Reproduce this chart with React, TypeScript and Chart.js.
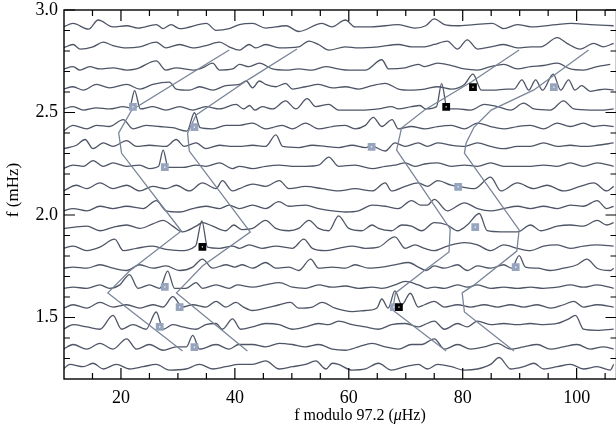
import React, { useEffect, useRef } from 'react';
import { Chart, registerables } from 'chart.js';

Chart.register(...registerables);

// Echelle diagram: f vs f modulo 97.2 µHz
const ROW_FREQ = [2.912, 2.815, 2.718, 2.620, 2.523, 2.426, 2.329, 2.232, 2.134, 2.037, 1.940, 1.843, 1.746, 1.648, 1.551, 1.454, 1.357, 1.260];
const POWER_SCALE = 0.0056; // mHz per power unit

type P = [number, number];
const trace00: P[] = [[9.9,1],[11.6,4],[14.3,-1],[16,7],[18.6,1],[21,2],[23,0],[26.2,3],[27.4,-0.5],[28.8,3],[30.3,-0.5],[35,4],[36.7,-2],[39,-0.5],[40.8,3],[43.1,4],[45.4,0],[49,2],[51.2,-3],[55.3,4],[57,1],[59.4,7],[61.1,1],[64,1],[68.7,3],[71.6,0],[73.5,2],[75,8],[76.8,3],[79,2],[82,3],[85.2,4],[87.2,-0.5],[89.6,3],[92,1],[96.5,3],[99,4],[102.4,3],[106.5,2]];
const trace01: P[] = [[9.9,0],[11.6,3],[12.8,-1],[15.1,1],[16.9,5],[18.6,2],[21,0],[23.3,1],[26.2,5],[27.9,0],[30.3,3],[32.6,0],[34.9,2],[37.3,5],[39,1],[40.8,-2],[42.5,3],[43.7,0],[45.4,3],[47.8,0],[51.2,1],[53,6],[54.7,3],[56.5,-2],[59.4,1],[61.7,0],[65.2,1],[68.7,3],[71,1],[73.3,1],[75,3],[77.3,6],[79.1,-1],[80.8,7],[82.6,-1],[85,1],[87.2,3],[89.6,0],[92,1],[93.7,1],[96.6,9],[98.3,4],[100.6,-1],[103,4],[104.7,1],[106.5,4]];
const trace02: P[] = [[9.9,-1],[11.6,1],[12.8,-2],[14.5,1],[16.3,-1],[18.6,0],[21,-2],[22.7,-1],[26.2,6],[27.9,-2],[29.7,0],[32.6,-2],[34.3,0],[36.1,4],[37.3,-2],[39.6,-1],[40.8,3],[42.5,1],[44.3,4],[46.6,-1],[48.9,-2],[51.2,-1],[53.6,-2],[55.9,1],[58.2,-1],[60,-2],[62.9,-2],[65.8,7],[67,-1],[69.9,0],[72.2,3],[73.3,1],[75.6,4],[78,2],[80.3,-1],[82.6,-2],[84.9,1],[87.2,3],[89.6,-1],[91.9,1],[94.2,2],[96.6,4],[98.9,-1],[101.2,-2],[103.6,1],[105.9,3]];
const trace03: P[] = [[9.9,-1],[11.6,1],[13.4,-2],[15.7,3],[18,0],[21,3],[23.3,-1],[25.6,3],[28.5,5],[29.7,-1],[32,-2],[33.8,1],[36.1,-2],[38.4,2],[40.8,3],[42,6],[43.1,0],[44.3,6],[45.4,3],[47.2,1],[48.9,4],[50.1,-1],[52.4,1],[54.7,3],[57.1,0],[59.4,1],[61.7,-1],[64.1,2],[66.4,4],[68.7,-1],[71,-2],[73.3,-1],[75.6,1],[78,-1],[80.3,3],[81.8,12],[83.3,-2],[85.4,-2],[87.7,-1],[89,-1],[90.4,7],[91.6,-2],[92.8,7],[94,-2],[95.9,12],[97.2,-2],[98.6,7],[99.7,-2],[100.9,2],[102.4,-3],[103.6,-2],[105,-1],[106.5,-2]];
const trace04: P[] = [[9.9,-1],[11.6,1],[13.4,-2],[15.7,0],[18,-1],[20.4,1],[21.5,0],[22.4,15],[23.4,-1],[25.6,1],[27.9,-2],[30.3,1],[32.6,-2],[34.9,1],[37.3,-1],[40.2,3],[41.5,-1],[42.6,2],[43.5,-2],[44.8,1],[46.6,-1],[48.9,6],[50.7,-1],[52.7,8],[54.2,1],[56.5,3],[58.2,-2],[60.6,-2],[62.9,-2],[65.2,-1],[67.5,1],[68.7,-1],[71,1],[72.5,2],[73.5,-1],[75.4,1],[76.3,21],[77.3,-1],[79.1,-1],[81.4,-2],[83.8,3],[86.1,1],[88.4,-2],[90.7,4],[92.5,-1],[95.4,-2],[97.7,6],[99.5,-1],[102.4,-2],[104.7,-2],[106.5,-1]];
const trace05: P[] = [[9.9,-3],[11.6,2],[14,-1],[15.7,2],[18,1],[20.4,7],[22.1,-1],[24.4,2],[26.8,1],[29.1,0],[31.6,-3],[32.9,13],[33.9,0],[36.1,-1],[38.4,2],[40.8,2],[43.1,4],[45.4,-1],[47.2,1],[48.3,2],[50.1,-1],[52.4,4],[54.7,-1],[57.1,1],[59.4,2],[61.1,-1],[62.9,2],[64.3,9],[65.8,1],[67.6,7],[68.7,-1],[71,1],[73.3,-1],[75.6,1],[78,2],[80.3,-1],[82.6,4],[84.9,1],[87.2,-1],[89.6,1],[91.9,2],[94.2,-1],[96.6,4],[98.9,1],[101.2,4],[103,1],[104.7,2],[106.5,1]];
const trace06: P[] = [[9.9,-1],[12.2,2],[13.7,7],[15.1,-1],[16.9,4],[18.6,1],[21,6],[22.7,1],[25,2],[27.9,1],[29.7,7],[31.1,1],[33.2,4],[34.9,-1],[37.3,2],[39.6,1],[40.8,1],[43.1,2],[45.4,1],[47.2,11],[48.4,1],[51.2,0],[53.6,2],[55.9,1],[58.2,0],[60.6,2],[62.9,0],[64.1,1],[66.4,-3],[68.1,4],[69.9,1],[72.2,4],[73.8,1],[75.6,4],[78,2],[80.3,1],[82.6,4],[84.9,1],[87.2,-1],[89.6,1],[91.9,1],[94.2,4],[96.6,1],[98.9,2],[101.2,1],[103.6,2],[106.5,4]];
const trace07: P[] = [[9.9,-1],[11.6,2],[13.4,1],[15.1,6],[16.9,1],[18.6,4],[21,1],[23.3,2],[25,-1],[26.6,1],[27.4,15],[28.3,0],[30.8,0],[33.2,2],[34.9,1],[37.3,4],[39.6,-1],[40.8,1],[43.1,-1],[45.4,1],[47.8,2],[50.1,1],[52.4,1],[54.7,2],[56.5,9],[58.2,1],[61.1,2],[64.1,-1],[66.4,1],[68.1,2],[69.9,4],[71.6,1],[73.3,3],[75.6,4],[78,1],[80.3,2],[82.6,1],[84.9,4],[87.2,1],[89.6,1],[91.9,1],[94.2,2],[96.6,1],[98.9,4],[101.2,1],[103.6,4],[106.5,1]];
const trace08: P[] = [[9.9,-3],[12.2,2],[14,-1],[16.3,4],[18.6,-1],[21,2],[23.3,-3],[25.6,1],[27.9,-1],[29.7,2],[32,-3],[34.3,4],[36.7,-1],[37.8,6],[39.6,-3],[40.8,-1],[43.1,3],[45.4,1],[47.8,6],[49.5,-1],[52.4,1],[55.3,-1],[58.2,-3],[61.1,-1],[64.1,-3],[66.4,4],[67.5,-3],[69.9,1],[72.2,4],[73.8,1],[75.6,6],[78,2],[79.3,1],[82,-1],[84.9,9],[86.7,-3],[89.6,4],[92.5,-1],[94.8,2],[97.7,-3],[100.6,1],[103,4],[105.3,-3],[106.5,1]];
const trace09: P[] = [[9.9,-3],[11.6,-1],[14,-3],[16.3,1],[18.6,-1],[21,1],[23.9,-1],[26.2,6],[27.9,-3],[30.3,-4],[32.6,-1],[34.9,1],[37.3,-1],[39,2],[40.8,-1],[43.1,2],[45.4,-1],[47.7,5],[49.5,1],[52.4,2],[54.7,-1],[57.1,-3],[59.4,-4],[61.7,-3],[64.1,2],[66.4,1],[68.7,-1],[71,6],[72.6,2],[73.8,2],[75,7],[77.3,-3],[80.3,4],[82.6,-1],[84.9,-3],[87.2,-1],[89.6,1],[91.9,-1],[94.2,1],[96.6,-1],[98.9,2],[101.2,1],[103.6,6],[105.3,-1],[106.5,1]];
const trace10: P[] = [[9.9,-1],[11.6,0],[14,1],[16.3,-3],[18.6,0],[21,2],[23.3,-1],[25.6,3],[27.4,6],[29.1,1],[30.8,-4],[33.2,1],[34.3,4],[36.1,1],[38.4,-3],[39.8,2],[41.2,-2],[43.1,-1],[45.4,6],[47.2,-1],[49.5,-3],[51.2,-1],[53,6],[54.7,-1],[56.5,-3],[58.2,10],[60,-1],[62.3,-3],[64.1,2],[65.2,-1],[67.5,-3],[69.3,2],[71,1],[72.8,-3],[75,4],[77.3,2],[79.1,-3],[80.8,2],[82.9,12],[84.3,-3],[86.7,-4],[89.6,-4],[91.9,2],[93.7,-3],[96.6,1],[98.9,2],[101.2,1],[103.6,6],[105.3,2],[106.5,4]];
const trace11: P[] = [[9.9,-1],[11.6,1],[14,-3],[16.3,0],[18.9,7],[20.4,-3],[22.7,-1],[25.6,1],[27.9,-2],[30.3,-3],[33.1,1],[34.2,23],[35.2,0],[37.3,-1],[39.6,1],[40.8,-1],[42.5,2],[44.8,-1],[47.2,1],[50.1,-1],[52.1,7],[53.6,-1],[55.9,-3],[58.2,-1],[60.6,1],[62.9,-1],[65.2,0],[68.1,9],[69.9,-1],[71.6,2],[73.3,-1],[75,-3],[77.3,1],[80.3,4],[82.6,2],[84.9,-3],[87.2,2],[89.6,-1],[91.9,-3],[94.2,1],[96.6,2],[98.9,-1],[101.2,1],[103.6,2],[106.5,1]];
const trace12: P[] = [[9.9,-1],[11.6,0],[14,-1],[16.3,2],[18.6,-1],[21,-3],[23.3,2],[25.6,-1],[27.9,1],[30.3,-3],[32.6,0],[34.3,7],[36.1,-1],[38.4,2],[40,0],[41.3,2],[43.1,-1],[45.4,4],[47.2,-1],[49.5,0],[51.2,-3],[53.3,7],[54.7,-1],[57.1,0],[59.4,-1],[61.1,2],[63.5,-1],[65.8,0],[68.1,2],[70.5,4],[72.2,0],[73.6,-3],[75,1],[76.8,-1],[79.1,2],[80.8,-3],[82.6,1],[84.9,-1],[87.2,2],[88.6,-1],[89.9,10],[91,0],[93.1,-1],[95.4,-3],[97.7,-1],[100.1,2],[101.8,7],[103.6,-1],[105.9,-3],[106.5,-1]];
const trace13: P[] = [[9.9,-1],[11.6,0],[14,-1],[16.3,2],[18,-1],[19.8,2],[21.5,11],[23,-1],[25,2],[26.8,-1],[28.2,14],[29.4,-1],[31.4,-1],[33.2,4],[34.3,-1],[36.7,2],[39,-1],[40.4,2],[43.1,0],[45.4,2],[47.8,4],[50.1,0],[52.4,-1],[54.7,2],[57.1,0],[59.4,1],[61.7,-1],[64.1,0],[65.8,-1],[68.1,2],[69.9,5],[72.2,2],[73.8,-1],[75,0],[76.8,-1],[79.1,2],[80.8,0],[82.6,2],[84.9,-1],[87.2,0],[89.6,-1],[91.9,0],[94.2,-1],[96.6,0],[98.9,2],[101.2,0],[103.6,2],[106.5,-1]];
const trace14: P[] = [[9.9,-1],[11.6,2],[14,-1],[16.3,4],[18.6,0],[21,2],[23.3,-1],[25.6,2],[27.4,0],[29.1,9],[30.8,0],[32.6,2],[34.9,0],[36.7,5],[38.4,0],[40.2,4],[41.5,0],[43.1,-3],[45.4,-1],[47.8,2],[49.8,4],[51.2,-1],[53.6,0],[55.3,4],[57.6,-1],[60.6,-4],[62.9,-3],[64.9,-1],[65.8,7],[66.9,-1],[68.1,14],[69.3,2],[70.8,12],[72.2,0],[73.3,2],[75,5],[76.8,0],[79.1,2],[81.4,0],[83.8,2],[86.1,0],[88.4,2],[90.7,0],[93.1,2],[95.4,-1],[97.7,2],[99.5,5],[101.2,0],[103.6,2],[106.5,0]];
const trace15: P[] = [[9.9,-2],[11.6,2],[14,0],[16.3,-2],[18.6,10],[20.1,-2],[22.1,2],[24.4,-2],[26.2,13],[27.4,-2],[29.1,2],[30.8,0],[33.2,-2],[34.9,2],[36.7,3],[37.8,-2],[39.6,7],[41,-2],[43.1,0],[45.4,3],[47.8,2],[50.1,-2],[52.4,0],[54.7,3],[56.5,2],[58.2,5],[60.6,2],[62.9,0],[65.2,-2],[67.5,2],[69.9,3],[72.2,0],[73.3,2],[75,5],[76.8,-2],[79.1,3],[80.8,0],[82.6,5],[84.9,2],[87.2,3],[89.6,2],[91.9,3],[94.2,2],[96.6,3],[98.6,7],[99.8,10],[101.2,-2],[103.6,-3],[106.5,-2]];
const trace16: P[] = [[9.9,-2],[11.6,2],[14,-2],[16.3,3],[18.6,-2],[21,7],[22.7,-2],[25,2],[27.4,-3],[29.7,0],[31.5,0],[32.6,10],[33.8,-2],[36.7,2],[39,-2],[40.7,2],[43.1,2],[45.4,0],[47.8,3],[50.1,2],[52.4,0],[54.7,2],[57.1,-2],[59.4,-3],[61.7,0],[64.1,3],[66.4,0],[68.7,-2],[71,2],[72.8,2],[75,7],[76.8,-2],[79.1,2],[81.4,-2],[83.8,0],[86.1,3],[88.4,-2],[90.7,0],[93.1,2],[95.4,-2],[97.7,0],[100.1,2],[102.4,-2],[104.7,0],[106.5,-2]];
const trace17: P[] = [[9.9,-2],[11,2],[13.4,0],[15.1,3],[16.9,-2],[19.2,2],[21.5,-2],[23.9,0],[26.2,2],[28.5,-3],[31.4,-2],[33.8,2],[36.1,-2],[38.4,0],[40.7,2],[43.1,2],[45.4,5],[47.8,-2],[50.1,0],[52.4,2],[54.2,5],[56,-2],[57.1,3],[58.2,2],[60.6,-3],[62.9,-2],[65.2,3],[67.5,-3],[69.9,0],[72.2,2],[73.8,-2],[75.6,2],[78,0],[80.3,-3],[82.6,-2],[84.9,2],[86.4,8],[88.4,-2],[90.7,0],[92.5,3],[94.2,-2],[96.6,0],[98.9,2],[101.2,-2],[103.6,0],[105.9,-3],[106.5,2]];

const TRACES = [trace00, trace01, trace02, trace03, trace04, trace05, trace06, trace07, trace08, trace09, trace10, trace11, trace12, trace13, trace14, trace15, trace16, trace17];

// Ridge lines (f modulo Δν in µHz, f in mHz)
const RIDGE_A_MU = [39.0, 21.9, 19.6, 20.1, 30.6, 21.5, 17.7, 30.8];
const RIDGE_A_F = [2.805, 2.512, 2.400, 2.302, 1.922, 1.727, 1.620, 1.337];
const RIDGE_B_MU = [50.9, 42.5, 33.2, 31.7, 32.0, 42.7, 34.3, 29.75, 42.2];
const RIDGE_B_F = [2.810, 2.663, 2.488, 2.400, 2.312, 1.917, 1.751, 1.620, 1.337];
const RIDGE_C_MU = [89.9, 81.5, 73.3, 69.25, 68.4, 77.8, 77.6, 73.4, 68.2, 67.7, 77.1];
const RIDGE_C_F = [2.805, 2.649, 2.512, 2.424, 2.317, 1.932, 1.820, 1.732, 1.620, 1.537, 1.337];
const RIDGE_D_MU = [102.1, 92.5, 85.0, 82.0, 80.6, 80.3, 89.9, 89.5, 82.0, 79.9, 80.3, 89.0];
const RIDGE_D_F = [2.805, 2.610, 2.512, 2.429, 2.351, 2.302, 1.927, 1.824, 1.659, 1.620, 1.527, 1.337];

// Identified modes
const LIGHT_MU = [22.1, 32.9, 27.7, 64.0, 96.0, 79.2, 82.2, 89.3, 27.7, 30.3, 26.8, 32.9, 67.9];
const LIGHT_F = [2.527, 2.429, 2.234, 2.332, 2.624, 2.137, 1.941, 1.746, 1.649, 1.551, 1.454, 1.356, 1.551];
const DARK_MU = [81.8, 77.1, 34.3, 68.8];
const DARK_F = [2.624, 2.527, 1.844, 1.551];

const X_MAJOR = [20, 40, 60, 80, 100];
const X_MINOR = [15, 25, 30, 35, 45, 50, 55, 65, 70, 75, 85, 90, 95, 105];
const Y_MAJOR = [1.5, 2.0, 2.5, 3.0];
const Y_MINOR = [1.3, 1.4, 1.6, 1.7, 1.8, 1.9, 2.1, 2.2, 2.3, 2.4, 2.6, 2.7, 2.8, 2.9];

const TRACE_COLOR = '#4e5566';
const RIDGE_COLOR = '#7a8599';
const LIGHT_COLOR = '#96a4be';
const FONT = "'Liberation Serif', 'Times New Roman', serif";

const framePlugin = {
  id: 'frameTicks',
  afterDraw(chart: any) {
    const { ctx, chartArea, scales } = chart;
    const { left, right, top, bottom } = chartArea;
    const xs = scales.x;
    const ys = scales.y;
    ctx.save();
    ctx.strokeStyle = '#000';
    ctx.lineWidth = 1.4;
    ctx.strokeRect(left, top, right - left, bottom - top);
    ctx.lineWidth = 1.2;
    ctx.beginPath();
    const xt = (v: number, len: number) => {
      const px = xs.getPixelForValue(v);
      ctx.moveTo(px, bottom); ctx.lineTo(px, bottom - len);
      ctx.moveTo(px, top); ctx.lineTo(px, top + len);
    };
    const yt = (v: number, len: number) => {
      const py = ys.getPixelForValue(v);
      ctx.moveTo(left, py); ctx.lineTo(left + len, py);
      ctx.moveTo(right, py); ctx.lineTo(right - len, py);
    };
    X_MAJOR.forEach(v => xt(v, 11));
    X_MINOR.forEach(v => xt(v, 6));
    Y_MAJOR.forEach(v => yt(v, 11));
    Y_MINOR.forEach(v => yt(v, 6));
    ctx.stroke();

    // axis titles
    ctx.fillStyle = '#000';
    ctx.textBaseline = 'alphabetic';
    const size = 16;
    const parts: [string, string][] = [
      ['f modulo 97.2 (', `${size}px ${FONT}`],
      ['\u03bc', `italic ${size}px ${FONT}`],
      ['Hz)', `${size}px ${FONT}`],
    ];
    let total = 0;
    parts.forEach(([t, f]) => { ctx.font = f; total += ctx.measureText(t).width; });
    let x0 = 360 - total / 2;
    parts.forEach(([t, f]) => {
      ctx.font = f;
      ctx.textAlign = 'left';
      ctx.fillText(t, x0, 420);
      x0 += ctx.measureText(t).width;
    });
    ctx.save();
    ctx.translate(18, 190);
    ctx.rotate(-Math.PI / 2);
    ctx.font = `17px ${FONT}`;
    ctx.textAlign = 'center';
    ctx.fillText('f (mHz)', 0, 0);
    ctx.restore();
    ctx.restore();
  },
};

export default function App() {
  const ref = useRef<HTMLCanvasElement | null>(null);
  useEffect(() => {
    if (!ref.current) return;
    const traceSets = TRACES.map((t, k) => ({
      label: `row ${k}`,
      data: t.map(([mu, p]) => ({ x: mu, y: ROW_FREQ[k] + p * POWER_SCALE })),
      showLine: true,
      borderColor: TRACE_COLOR,
      borderWidth: 1.3,
      pointRadius: 0,
      cubicInterpolationMode: 'monotone' as const,
      order: 3,
    }));
    const ridge = (mu: number[], f: number[], k: string) => ({
      label: k,
      data: mu.map((m, i) => ({ x: m, y: f[i] })),
      showLine: true,
      borderColor: RIDGE_COLOR,
      borderWidth: 1.3,
      pointRadius: 0,
      tension: 0,
      order: 2,
    });
    const allMu = [...DARK_MU, ...LIGHT_MU];
    const allF = [...DARK_F, ...LIGHT_F];
    const chart = new Chart(ref.current, {
      type: 'scatter',
      data: {
        datasets: [
          {
            label: 'specks', data: allMu.map((m, i) => ({ x: m, y: allF[i] })),
            pointStyle: 'rect', pointRadius: 0.9, backgroundColor: '#ffffff', borderWidth: 0, order: -1,
          } as any,
          {
            label: 'dark', data: DARK_MU.map((m, i) => ({ x: m, y: DARK_F[i] })),
            pointStyle: 'rect', pointRadius: 5.5, backgroundColor: '#000', borderWidth: 0, order: 0,
          } as any,
          {
            label: 'light', data: LIGHT_MU.map((m, i) => ({ x: m, y: LIGHT_F[i] })),
            pointStyle: 'rect', pointRadius: 5.5, backgroundColor: LIGHT_COLOR, borderWidth: 0, order: 1,
          } as any,
          ridge(RIDGE_A_MU, RIDGE_A_F, 'A'),
          ridge(RIDGE_B_MU, RIDGE_B_F, 'B'),
          ridge(RIDGE_C_MU, RIDGE_C_F, 'C'),
          ridge(RIDGE_D_MU, RIDGE_D_F, 'D'),
          ...traceSets,
        ],
      },
      options: {
        responsive: false,
        animation: false,
        devicePixelRatio: 1,
        layout: { padding: { top: 10, right: 3, left: 0, bottom: 0 } },
        plugins: { legend: { display: false }, tooltip: { enabled: false } },
        scales: {
          x: {
            type: 'linear', min: 10, max: 107,
            grid: { display: false, drawTicks: false },
            border: { display: false },
            afterBuildTicks: (s: any) => { s.ticks = X_MAJOR.map(v => ({ value: v })); },
            afterFit: (s: any) => { s.height = 46; s.paddingLeft = 0; s.paddingRight = 0; },
            ticks: { color: '#000', padding: 8, maxRotation: 0, font: { family: FONT, size: 18 }, callback: (v: any) => String(v) },
          },
          y: {
            type: 'linear', min: 1.2, max: 3.0,
            grid: { display: false, drawTicks: false },
            border: { display: false },
            afterBuildTicks: (s: any) => { s.ticks = Y_MAJOR.map(v => ({ value: v })); },
            afterFit: (s: any) => { s.width = 64; s.paddingTop = 0; s.paddingBottom = 0; },
            ticks: { color: '#000', padding: 6, font: { family: FONT, size: 18 }, callback: (v: any) => Number(v).toFixed(1) },
          },
        },
      } as any,
      plugins: [framePlugin],
    });
    return () => chart.destroy();
  }, []);
  return (
    <div style={{ position: 'fixed', left: 0, top: 0, width: 622, height: 425, overflow: 'hidden', background: '#fff' }}>
      <canvas ref={ref} width={622} height={425} style={{ display: 'block' }} />
    </div>
  );
}
